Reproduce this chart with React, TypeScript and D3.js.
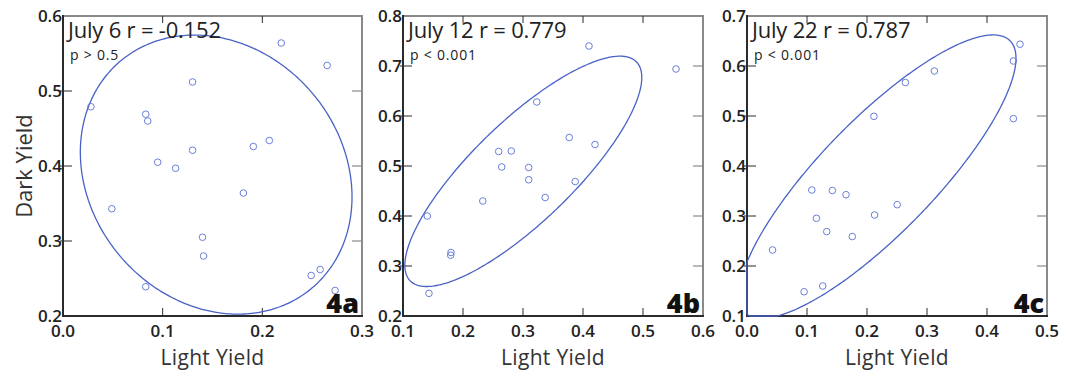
import React from "react";
import * as d3 from "d3";

// ---- Data ----
const july6Light = [0.219, 0.265, 0.130, 0.028, 0.083, 0.085, 0.207, 0.191, 0.130, 0.095, 0.113, 0.181, 0.049, 0.140, 0.141, 0.258, 0.249, 0.083, 0.273];
const july6Dark = [0.564, 0.534, 0.512, 0.479, 0.469, 0.460, 0.434, 0.426, 0.421, 0.405, 0.397, 0.364, 0.343, 0.305, 0.280, 0.262, 0.254, 0.239, 0.234];

const july12Light = [0.410, 0.555, 0.323, 0.377, 0.420, 0.2595, 0.2805, 0.2645, 0.3095, 0.3095, 0.387, 0.337, 0.233, 0.1405, 0.1795, 0.180, 0.1433];
const july12Dark = [0.740, 0.694, 0.628, 0.557, 0.543, 0.529, 0.530, 0.498, 0.497, 0.4725, 0.469, 0.437, 0.430, 0.400, 0.3216, 0.327, 0.2453];

const july22Light = [0.455, 0.444, 0.3123, 0.264, 0.2115, 0.444, 0.108, 0.1423, 0.165, 0.2503, 0.2126, 0.1157, 0.1329, 0.1755, 0.0426, 0.1262, 0.0952];
const july22Dark = [0.6436, 0.610, 0.590, 0.567, 0.4993, 0.4947, 0.352, 0.351, 0.3426, 0.3226, 0.302, 0.2954, 0.2688, 0.2589, 0.232, 0.160, 0.1485];

const panelTitles = ["July 6 r = -0.152", "July 12 r = 0.779", "July 22 r = 0.787"];
const panelPValues = ["p > 0.5", "p < 0.001", "p < 0.001"];
const panelTags = ["4a", "4b", "4c"];
const xDomains: [number, number][] = [[0, 0.3], [0.1, 0.6], [0, 0.5]];
const yDomains: [number, number][] = [[0.2, 0.6], [0.2, 0.8], [0.1, 0.7]];
const xTickValues = [[0, 0.1, 0.2, 0.3], [0.1, 0.2, 0.3, 0.4, 0.5, 0.6], [0, 0.1, 0.2, 0.3, 0.4, 0.5]];
const yTickValues = [[0.2, 0.3, 0.4, 0.5, 0.6], [0.2, 0.3, 0.4, 0.5, 0.6, 0.7, 0.8], [0.1, 0.2, 0.3, 0.4, 0.5, 0.6, 0.7]];
const ellipseProbability = 0.8;
const xAxisTitle = "Light Yield";
const yAxisTitle = "Dark Yield";

const lightSeries = [july6Light, july12Light, july22Light];
const darkSeries = [july6Dark, july12Dark, july22Dark];

// ---- Layout ----
const W = 1070;
const H = 378;
const panelX: [number, number][] = [[63, 362], [403, 703], [747, 1047]];
const plotTop = 16;
const plotBottom = 316;
const FONT = "'Open Sans', 'DejaVu Sans', sans-serif";
const POINT_COLOR = "#6b7fd8";
const ELLIPSE_COLOR = "#4a62c6";
const DARK = "#2b2b2b";
const GRAY = "#8a8a8a";

function ellipsePoints(xs: number[], ys: number[]) {
  const n = xs.length;
  const mx = d3.mean(xs)!;
  const my = d3.mean(ys)!;
  let sxx = 0, syy = 0, sxy = 0;
  for (let i = 0; i < n; i++) {
    sxx += (xs[i] - mx) ** 2;
    syy += (ys[i] - my) ** 2;
    sxy += (xs[i] - mx) * (ys[i] - my);
  }
  sxx /= n - 1; syy /= n - 1; sxy /= n - 1;
  const k = Math.sqrt(-2 * Math.log(1 - ellipseProbability));
  const l11 = Math.sqrt(sxx);
  const l21 = sxy / l11;
  const l22 = Math.sqrt(syy - l21 * l21);
  const pts: [number, number][] = [];
  for (let i = 0; i <= 360; i++) {
    const t = (i / 360) * 2 * Math.PI;
    const u = Math.cos(t), v = Math.sin(t);
    pts.push([mx + k * l11 * u, my + k * (l21 * u + l22 * v)]);
  }
  return pts;
}

function Panel({ i }: { i: number }) {
  const [x0, x1] = panelX[i];
  const x = d3.scaleLinear().domain(xDomains[i]).range([x0, x1]);
  const y = d3.scaleLinear().domain(yDomains[i]).range([plotBottom, plotTop]);
  const xs = lightSeries[i];
  const ys = darkSeries[i];
  const ell = ellipsePoints(xs, ys);
  const clampX = (v: number) => Math.max(xDomains[i][0], Math.min(xDomains[i][1], v));
  const clampY = (v: number) => Math.max(yDomains[i][0], Math.min(yDomains[i][1], v));
  const line = d3.line<[number, number]>().x((d) => x(clampX(d[0]))).y((d) => y(clampY(d[1])));
  const fmt = d3.format(".1f");
  return (
    <g>
      {/* top and right frame (gray) */}
      <line x1={x0} x2={x1} y1={plotTop} y2={plotTop} stroke={GRAY} strokeWidth={2} />
      <line x1={x1} x2={x1} y1={plotTop - 1} y2={plotBottom} stroke={GRAY} strokeWidth={2} />
      {/* inner ticks on top and right */}
      {xTickValues[i].slice(1, -1).map((t) => (
        <line key={"tt" + t} x1={x(t)} x2={x(t)} y1={plotTop} y2={plotTop + 7} stroke={DARK} strokeWidth={1} />
      ))}
      {yTickValues[i].slice(1, -1).map((t) => (
        <line key={"rt" + t} x1={x1 - 10} x2={x1} y1={y(t)} y2={y(t)} stroke={GRAY} strokeWidth={1.2} />
      ))}
      {/* left and bottom axes (dark) */}
      <line x1={x0} x2={x0} y1={plotTop - 1} y2={plotBottom + 1} stroke={DARK} strokeWidth={2} />
      <line x1={x0 - 1} x2={x1 + 1} y1={plotBottom} y2={plotBottom} stroke={DARK} strokeWidth={2} />
      {xTickValues[i].slice(1, -1).map((t) => (
        <line key={"bt" + t} x1={x(t)} x2={x(t)} y1={plotBottom - 8} y2={plotBottom} stroke={DARK} strokeWidth={1} />
      ))}
      {yTickValues[i].slice(1, -1).map((t) => (
        <line key={"lt" + t} x1={x0 - 3} x2={x0 + 9} y1={y(t)} y2={y(t)} stroke={DARK} strokeWidth={1} />
      ))}
      {/* ellipse (clamped to the frame, drawn over it) */}
      <path d={line(ell) || ""} fill="none" stroke={ELLIPSE_COLOR} strokeWidth={1.3} />
      {/* points */}
      {xs.map((v, j) => (
        <circle key={j} cx={x(v)} cy={y(ys[j])} r={3.3} fill="none" stroke={POINT_COLOR} strokeWidth={1} />
      ))}
      {/* tick labels */}
      {xTickValues[i].map((t) => (
        <text key={"xl" + t} x={x(t)} y={337} textAnchor="middle" fontFamily={FONT} fontWeight={600} fontSize={17} fill="#222">
          {fmt(t)}
        </text>
      ))}
      {yTickValues[i].map((t) => (
        <text key={"yl" + t} x={x0 - 1} y={y(t)} dy="0.36em" textAnchor="end" fontFamily={FONT} fontWeight={600} fontSize={17} fill="#222">
          {fmt(t)}
        </text>
      ))}
      {/* labels inside */}
      <text x={x0 + 5} y={38} fontFamily={FONT} fontSize={22} fill="#222" letterSpacing={-0.2}>{panelTitles[i]}</text>
      <text x={x0 + 7} y={60} fontFamily={FONT} fontSize={14} fill="#222" letterSpacing={0.8}>{panelPValues[i]}</text>
      <text x={x1 - 3} y={313} textAnchor="end" fontFamily={FONT} fontWeight={800} fontSize={27} fill="#111">{panelTags[i]}</text>
      {/* x axis title */}
      <text x={(x0 + x1) / 2} y={365} textAnchor="middle" fontFamily={FONT} fontSize={21} letterSpacing={0.3} fill="#333">{xAxisTitle}</text>
    </g>
  );
}

export default function App() {
  return (
    <svg width={W} height={H} style={{ display: "block", position: "absolute", left: 0, top: 0, background: "#fff" }}>
      <rect width={W} height={H} fill="#fff" />
      {[0, 1, 2].map((i) => (
        <Panel key={i} i={i} />
      ))}
      <text transform={`translate(32,${(plotTop + plotBottom) / 2}) rotate(-90)`} textAnchor="middle" fontFamily={FONT} fontSize={22} fill="#333">
        {yAxisTitle}
      </text>
    </svg>
  );
}
